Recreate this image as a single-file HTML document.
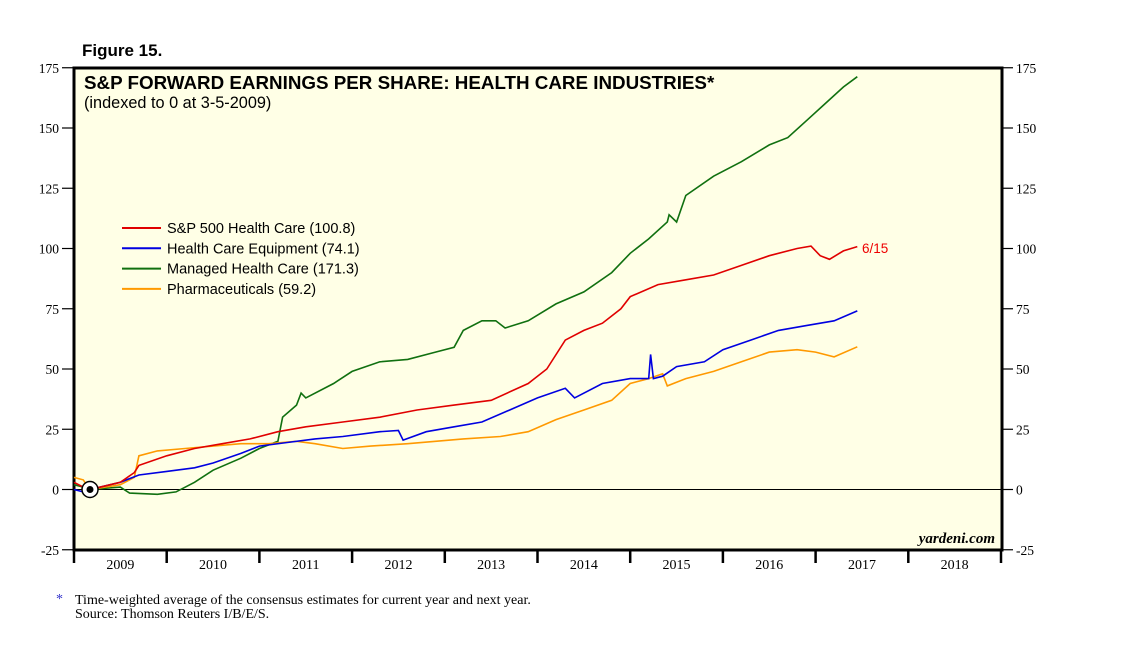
<!DOCTYPE html>
<html><head><meta charset="utf-8"><style>
body{margin:0;background:#fff;width:1138px;height:641px;overflow:hidden;font-family:"Liberation Serif",serif}
</style></head><body>
<svg width="1138" height="641">
<rect x="74" y="68" width="928" height="482" fill="#ffffe6" stroke="#000" stroke-width="3"/>
<text x="82" y="56" font-family="Liberation Sans" font-weight="bold" font-size="17">Figure 15.</text>
<text x="84" y="89" font-family="Liberation Sans" font-weight="bold" font-size="18.8">S&amp;P FORWARD EARNINGS PER SHARE: HEALTH CARE INDUSTRIES*</text>
<text x="84" y="108" font-family="Liberation Sans" font-size="16.3">(indexed to 0 at 3-5-2009)</text>
<g id="axes"></g>
<g id="series"></g>
<g id="legend"></g>
<circle cx="90" cy="489.5" r="8" fill="#fff" stroke="#000" stroke-width="1.5"/>
<circle cx="90" cy="489.5" r="3.5" fill="#000"/>
<text x="862" y="253" fill="#e00" font-family="Liberation Sans" font-size="13.5">6/15</text>
<text x="995" y="543" text-anchor="end" font-style="italic" font-weight="bold" font-size="15">yardeni.com</text>
<text x="56" y="603" fill="#33c" font-size="14">*</text>
<text x="75" y="604" font-size="14">Time-weighted average of the consensus estimates for current year and next year.</text>
<text x="75" y="618" font-size="14">Source: Thomson Reuters I/B/E/S.</text>
</svg>
<script>
const yTicks=[175,150,125,100,75,50,25,0,-25];
const years=[2009,2010,2011,2012,2013,2014,2015,2016,2017,2018];
const names=["S&P 500 Health Care (100.8)","Health Care Equipment (74.1)","Managed Health Care (171.3)","Pharmaceuticals (59.2)"];
const colors=["#e00000","#0000e0","#107010","#ff9900"];
const redT=[2009.0,2009.1,2009.17,2009.5,2009.65,2009.7,2010.0,2010.3,2010.6,2010.9,2011.2,2011.5,2011.9,2012.3,2012.7,2013.1,2013.5,2013.9,2014.1,2014.3,2014.5,2014.7,2014.9,2015.0,2015.3,2015.6,2015.9,2016.2,2016.5,2016.8,2016.95,2017.05,2017.15,2017.3,2017.45];
const redV=[3,1,0,3,7,10,14,17,19,21,24,26,28,30,33,35,37,44,50,62,66,69,75,80,85,87,89,93,97,100,101,97,95.5,99,100.8];
const blueT=[2009.0,2009.1,2009.17,2009.5,2009.7,2010.0,2010.3,2010.5,2010.8,2011.0,2011.3,2011.6,2011.9,2012.3,2012.5,2012.55,2012.8,2013.1,2013.4,2013.7,2014.0,2014.3,2014.4,2014.7,2015.0,2015.2,2015.22,2015.25,2015.35,2015.5,2015.8,2016.0,2016.3,2016.6,2016.9,2017.2,2017.45];
const blueV=[0,-1,0,3,6,7.5,9,11,15,18,19.5,21,22,24,24.5,20.5,24,26,28,33,38,42,38,44,46,46,56,46,47,51,53,58,62,66,68,70,74.1];
const greenT=[2009.0,2009.1,2009.17,2009.5,2009.6,2009.9,2010.1,2010.3,2010.5,2010.8,2011.0,2011.2,2011.25,2011.4,2011.45,2011.5,2011.8,2012.0,2012.3,2012.6,2012.9,2013.1,2013.2,2013.4,2013.55,2013.65,2013.9,2014.2,2014.5,2014.8,2015.0,2015.2,2015.4,2015.42,2015.5,2015.6,2015.9,2016.2,2016.5,2016.7,2016.9,2017.1,2017.3,2017.45];
const greenV=[2,1,0,1,-1.5,-2,-1,3,8,13,17,20,30,35,40,38,44,49,53,54,57,59,66,70,70,67,70,77,82,90,98,104,111,114,111,122,130,136,143,146,153,160,167,171.3];
const orangeT=[2009.0,2009.1,2009.17,2009.5,2009.65,2009.7,2009.9,2010.2,2010.5,2010.8,2011.1,2011.4,2011.6,2011.9,2012.2,2012.6,2012.9,2013.2,2013.6,2013.9,2014.2,2014.5,2014.8,2015.0,2015.2,2015.35,2015.4,2015.6,2015.9,2016.2,2016.5,2016.8,2017.0,2017.2,2017.45];
const orangeV=[5,4,0,2,5,14,16,17,18,19,19,20,19,17,18,19,20,21,22,24,29,33,37,44,46,48,43,46,49,53,57,58,57,55,59.2];
const NS="http://www.w3.org/2000/svg";
const X=t=>74+(t-2009)*92.7;
const Y=v=>489.5-v*2.41;
function mk(tag,attrs,parent,text){const e=document.createElementNS(NS,tag);for(const k in attrs)e.setAttribute(k,attrs[k]);if(text!==undefined)e.textContent=text;parent.appendChild(e);return e;}
const ax=document.getElementById('axes');
yTicks.forEach(v=>{
 let e=mk('line',{x1:62,x2:74,y1:Y(v),y2:Y(v),stroke:'#000','stroke-width':1.2},ax);
 
 e=mk('line',{x1:1002,x2:1013,y1:Y(v),y2:Y(v),stroke:'#000','stroke-width':1.2},ax);
 
 e=mk('text',{x:59,y:Y(v)+5,'text-anchor':'end','font-size':13.5},ax,String(v));
 
 e=mk('text',{x:1016,y:Y(v)+5,'font-size':13.5},ax,String(v));
 
});
let z=mk('line',{x1:74,x2:1002,y1:Y(0),y2:Y(0),stroke:'#000','stroke-width':1},ax);

years.forEach(y=>{
 let e=mk('line',{x1:X(y),x2:X(y),y1:550,y2:563,stroke:'#000','stroke-width':2.5},ax);
 
 e=mk('text',{x:X(y+0.5),y:569,'text-anchor':'middle','font-size':14},ax,String(y));
 
});
let e2=mk('line',{x1:X(2019),x2:X(2019),y1:550,y2:563,stroke:'#000','stroke-width':2.5},ax);

const sg=document.getElementById('series');
const sets=[[greenT,greenV,colors[2],'managed-health-care-line'],[orangeT,orangeV,colors[3],'pharmaceuticals-line'],[blueT,blueV,colors[1],'health-care-equipment-line'],[redT,redV,colors[0],'sp500-health-care-line']];
sets.forEach(s=>{
 const d=s[0].map((t,i)=>(i?'L':'M')+X(t).toFixed(1)+','+Y(s[1][i]).toFixed(1)).join(' ');
 const p=mk('path',{d:d,fill:'none',stroke:s[2],'stroke-width':1.6},sg);
 
});
const lg=document.getElementById('legend');
names.forEach((n,i)=>{
 const y=228+i*20.3;
 let e=mk('line',{x1:122,x2:161,y1:y,y2:y,stroke:colors[i],'stroke-width':2},lg);
 
 e=mk('text',{x:167,y:y+5,'font-family':'Liberation Sans','font-size':14.5},lg,n);
 
});
</script>
</body></html>
